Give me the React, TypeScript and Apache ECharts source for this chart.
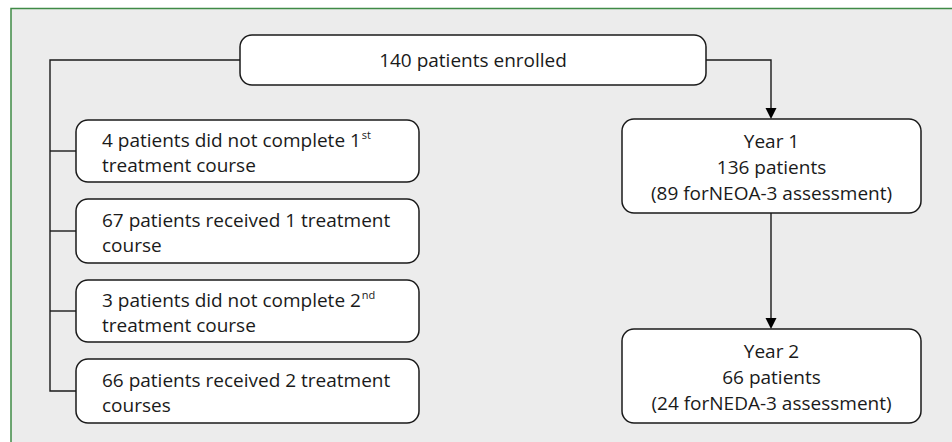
import React, { useEffect, useRef } from "react";
import * as echarts from "echarts";

// Flowchart content
const topNode = "140 patients enrolled";
const leftNodes: string[] = [
  "{n|4 patients did not complete 1}{s|st}\n{n|treatment course}",
  "{n|67 patients received 1 treatment}\n{n|course}",
  "{n|3 patients did not complete 2}{s|nd}\n{n|treatment course}",
  "{n|66 patients received 2 treatment}\n{n|courses}",
];
const rightNodes: string[] = [
  "Year 1\n136 patients\n(89 forNEOA-3 assessment)",
  "Year 2\n66 patients\n(24 forNEDA-3 assessment)",
];

// Layout (positions)
const TOP = { x: 240, y: 35, w: 466, h: 50 };
const LEFT_X = 76;
const LEFT_W = 343;
const LEFT_BOXES = [
  { y: 120, h: 62 },
  { y: 199, h: 64 },
  { y: 280, h: 62 },
  { y: 359, h: 64 },
];
const RIGHT_X = 622;
const RIGHT_W = 299;
const RIGHT_BOXES = [
  { y: 119, h: 94 },
  { y: 329, h: 94 },
];
const SPINE_X = 50;
const ARROW_X = 771;

const FONT = "'Open Sans', 'Noto Sans', sans-serif";
const FS = 19;
const INK = "#1a1a1a";
const LINE = { stroke: INK, lineWidth: 1.4 };
const BOX = { fill: "#ffffff", stroke: INK, lineWidth: 1.5 };

export default function App() {
  const ref = useRef<HTMLDivElement>(null);
  useEffect(() => {
    if (!ref.current) return;
    const chart = echarts.init(ref.current, null, { renderer: "svg" });
    const els: any[] = [];
    // background panel
    els.push({
      type: "rect",
      shape: { x: 11, y: 8, width: 960, height: 460 },
      style: { fill: "#ececec" },
    });
    els.push({
      type: "polyline",
      shape: { points: [[11, 460], [11, 8.5], [960, 8.5]] },
      style: { stroke: "#3f8a46", lineWidth: 1.5, fill: "none" },
    });
    // connectors: top box to spine
    const topMidY = TOP.y + TOP.h / 2;
    const lastLeft = LEFT_BOXES[LEFT_BOXES.length - 1];
    els.push({
      type: "polyline",
      shape: {
        points: [
          [TOP.x, topMidY],
          [SPINE_X, topMidY],
          [SPINE_X, lastLeft.y + lastLeft.h / 2],
          [LEFT_X, lastLeft.y + lastLeft.h / 2],
        ],
      },
      style: { ...LINE, fill: "none" },
    });
    LEFT_BOXES.slice(0, -1).forEach((b) => {
      els.push({
        type: "line",
        shape: { x1: SPINE_X, y1: b.y + b.h / 2, x2: LEFT_X, y2: b.y + b.h / 2 },
        style: LINE,
      });
    });
    // top to Year 1
    els.push({
      type: "polyline",
      shape: {
        points: [
          [TOP.x + TOP.w, topMidY],
          [ARROW_X, topMidY],
          [ARROW_X, RIGHT_BOXES[0].y - 10],
        ],
      },
      style: { ...LINE, fill: "none" },
    });
    els.push({
      type: "line",
      shape: {
        x1: ARROW_X,
        y1: RIGHT_BOXES[0].y + RIGHT_BOXES[0].h,
        x2: ARROW_X,
        y2: RIGHT_BOXES[1].y - 10,
      },
      style: LINE,
    });
    RIGHT_BOXES.forEach((b) => {
      els.push({
        type: "polygon",
        shape: {
          points: [
            [ARROW_X - 5.5, b.y - 11],
            [ARROW_X + 5.5, b.y - 11],
            [ARROW_X, b.y],
          ],
        },
        style: { fill: "#000" },
      });
    });
    // top box
    els.push({
      type: "rect",
      shape: { x: TOP.x, y: TOP.y, width: TOP.w, height: TOP.h, r: 12 },
      style: BOX,
    });
    els.push({
      type: "text",
      x: TOP.x + TOP.w / 2,
      y: topMidY,
      style: {
        text: topNode,
        font: `${FS}px ${FONT}`,
        fill: INK,
        align: "center",
        verticalAlign: "middle",
      },
    });
    // left boxes
    LEFT_BOXES.forEach((b, i) => {
      els.push({
        type: "rect",
        shape: { x: LEFT_X, y: b.y, width: LEFT_W, height: b.h, r: 12 },
        style: BOX,
      });
      els.push({
        type: "text",
        x: 102,
        y: b.y + b.h / 2 + 1,
        style: {
          text: leftNodes[i],
          fill: INK,
          align: "left",
          verticalAlign: "middle",
          rich: {
            n: { fontSize: FS, fontFamily: FONT, lineHeight: 25, fill: INK },
            s: {
              fontSize: 11,
              fontFamily: FONT,
              lineHeight: 25,
              fill: INK,
              padding: [0, 0, 11, 1],
            },
          },
        },
      });
    });
    // right boxes
    RIGHT_BOXES.forEach((b, i) => {
      els.push({
        type: "rect",
        shape: { x: RIGHT_X, y: b.y, width: RIGHT_W, height: b.h, r: 12 },
        style: BOX,
      });
      els.push({
        type: "text",
        x: RIGHT_X + RIGHT_W / 2,
        y: b.y + b.h / 2 + 1,
        style: {
          text: rightNodes[i],
          font: `${FS}px ${FONT}`,
          lineHeight: 26,
          fill: INK,
          align: "center",
          verticalAlign: "middle",
        },
      });
    });
    chart.setOption({ animation: false, graphic: { elements: els } });
    return () => chart.dispose();
  }, []);
  return (
    <div
      ref={ref}
      style={{ position: "absolute", left: 0, top: 0, width: 952, height: 442, background: "#fff" }}
    />
  );
}
